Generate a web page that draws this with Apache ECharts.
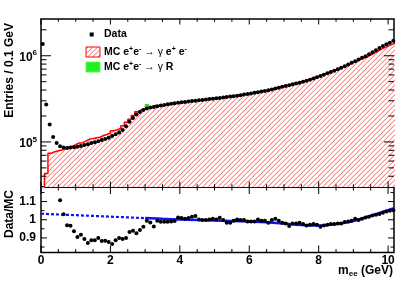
<!DOCTYPE html>
<html>
<head>
<meta charset="utf-8">
<script src="https://cdn.jsdelivr.net/npm/echarts@6/dist/echarts.min.js"></script>
<style>html,body{margin:0;padding:0;background:#fff}#c{width:415px;height:281px}</style>
</head>
<body>
<div id="c"></div>
<script>
// ---------------- data ----------------
const massBins = [0.05,0.15,0.25,0.35,0.45,0.55,0.65,0.75,0.85,0.95,1.05,1.15,1.25,1.35,1.45,1.55,1.65,1.75,1.85,1.95,
2.05,2.15,2.25,2.35,2.45,2.55,2.65,2.75,2.85,2.95,3.05,3.15,3.25,3.35,3.45,3.55,3.65,3.75,3.85,3.95,
4.05,4.15,4.25,4.35,4.45,4.55,4.65,4.75,4.85,4.95,5.05,5.15,5.25,5.35,5.45,5.55,5.65,5.75,5.85,5.95,
6.05,6.15,6.25,6.35,6.45,6.55,6.65,6.75,6.85,6.95,7.05,7.15,7.25,7.35,7.45,7.55,7.65,7.75,7.85,7.95,
8.05,8.15,8.25,8.35,8.45,8.55,8.65,8.75,8.85,8.95,9.05,9.15,9.25,9.35,9.45,9.55,9.65,9.75,9.85,9.95,
10.05,10.15];
const dataCounts = [1370000,272000,159000,114000,97000,89000,86000,85000,86000,87000,88000,90000,92000,94000,97000,99000,102000,105000,108000,112000,
117000,123000,129000,138000,152000,171000,190000,208000,223000,234000,245000,251000,255000,260000,264000,269000,273000,278000,282000,285000,
288000,291000,295000,298000,301000,304000,307000,310000,314000,317000,321000,324000,328000,332000,336000,340000,344000,348000,354000,360000,
366000,372000,378000,385000,391000,398000,407000,416000,426000,436000,446000,456000,466000,476000,485000,498000,512000,528000,545000,562000,
583000,604000,625000,647000,672000,698000,727000,758000,792000,828000,866000,905000,945000,985000,1040000,1100000,1160000,1230000,1300000,1360000,
1420000,1490000];
const mcGammaEE = [25000,43000,74000,77000,79000,80400,83500,87600,88900,92800,97200,98100,102900,107800,109400,111600,113300,118900,122000,127600,
134900,138700,143300,154400,168900,183300,202300,224600,236200,243500,246500,254800,264800,261600,262700,267700,271900,277200,281200,284400,
287400,290700,294900,298000,301300,304300,307600,310900,314900,318300,322300,325600,329600,334000,338400,342400,346800,350800,357200,363600,
369700,376100,382600,390100,396200,404100,413600,423200,434300,444900,456000,466700,477900,489200,499000,513400,528400,544900,563000,580600,
602300,622700,643000,664300,689200,714400,741800,770300,801600,834700,870400,905000,937500,971400,1021000,1073000,1125000,1185000,1243000,1295000,
1346000,1403000];
const gammaRMass = [3.05];
const gammaRStackTop = [272000];

const ratioMass = [0.55,0.65,0.75,0.85,0.95,1.05,1.15,1.25,1.35,1.45,1.55,1.65,1.75,1.85,1.95,
2.05,2.15,2.25,2.35,2.45,2.55,2.65,2.75,2.85,2.95,3.05,3.15,3.25,3.35,3.45,3.55,3.65,3.75,3.85,3.95,
4.05,4.15,4.25,4.35,4.45,4.55,4.65,4.75,4.85,4.95,5.05,5.15,5.25,5.35,5.45,5.55,5.65,5.75,5.85,5.95,
6.05,6.15,6.25,6.35,6.45,6.55,6.65,6.75,6.85,6.95,7.05,7.15,7.25,7.35,7.45,7.55,7.65,7.75,7.85,7.95,
8.05,8.15,8.25,8.35,8.45,8.55,8.65,8.75,8.85,8.95,9.05,9.15,9.25,9.35,9.45,9.55,9.65,9.75,9.85,9.95,
10.05,10.15];
const ratioValues = [1.107,1.030,0.970,0.967,0.937,0.905,0.917,0.894,0.872,0.887,0.887,0.900,0.883,0.885,0.878,
0.867,0.887,0.900,0.894,0.900,0.933,0.939,0.926,0.944,0.961,0.994,0.985,0.963,0.994,0.989,0.989,0.989,0.991,0.993,1.013,
1.009,1.006,1.009,1.017,1.020,1.002,0.998,0.998,1.002,1.006,1.002,1.011,0.998,0.983,0.983,0.994,1.002,0.998,0.998,0.991,
0.991,0.991,1.002,0.994,0.994,0.983,0.998,1.006,0.994,0.983,0.980,0.965,0.980,0.980,0.983,0.976,0.968,0.972,0.976,0.972,
0.961,0.968,0.972,0.976,0.976,0.980,0.980,0.987,0.991,0.994,1.006,0.998,1.006,1.013,1.017,1.024,1.028,1.031,1.039,1.046,
1.050,1.052];

const fitMass = [3.0,3.5,4.0,4.5,5.0,5.5,6.0,6.5,7.0,7.5,8.0,8.5,9.0,9.5,10.0,10.17];
const fitRatio = [1.009,1.005,1.002,0.999,0.996,0.993,0.990,0.986,0.979,0.971,0.968,0.976,0.993,1.022,1.053,1.063];
const extrapMass = [0.0,3.0];
const extrapRatio = [1.033,1.009];

const xMajorTicks = [0,2,4,6,8,10];
const xMinorTicks = [0.5,1,1.5,2.5,3,3.5,4.5,5,5.5,6.5,7,7.5,8.5,9,9.5];
const logMajorTicks = [1e5,1e6];
const logMinorTicks = [4e4,5e4,6e4,7e4,8e4,9e4,2e5,3e5,4e5,5e5,6e5,7e5,8e5,9e5,2e6];
const ratioMajorTicks = [0.9,1.0,1.1];
const ratioMinorTicks = [0.85,0.95,1.05,1.15];
const xTickLabels = [0,2,4,6,8,10];
const ratioTickLabels = {'0.9':'0.9','1':'1','1.1':'1.1'};

// ---------------- axis ranges ----------------
const XMIN = 0, XMAX = 10.17, BINW = 0.1;
const YMIN = 30000, YMAX = 2670000;
const RMIN = 0.82, RMAX = 1.18;

const FONT = '"Liberation Sans", Arial, Helvetica, sans-serif';

function hatchCanvas() {
  const n = 5;
  const c = document.createElement('canvas');
  c.width = n; c.height = n;
  const g = c.getContext('2d');
  g.fillStyle = '#ffffff';
  g.fillRect(0, 0, n, n);
  g.fillStyle = '#ff8a8a';
  for (let i = 0; i < n; i++) g.fillRect(n - 1 - i, i, 1, 1);
  g.fillStyle = '#ffd2d2';
  for (let i = 0; i < n; i++) g.fillRect((2 * n - 2 - i) % n, i, 1, 1);
  return c;
}
const hatch = hatchCanvas();

// histogram outline table (bin lower edges + final upper edge)
const mcStep = massBins.map((m, i) => [m - BINW / 2, mcGammaEE[i]]);
mcStep.push([massBins[massBins.length - 1] + BINW / 2, mcGammaEE[mcGammaEE.length - 1]]);
const dataPts = massBins.map((m, i) => [m, dataCounts[i]]);
const ratioPts = ratioMass.map((m, i) => [m, ratioValues[i]]);
const fitPts = fitMass.map((m, i) => [m, fitRatio[i]]);
const extrapPts = extrapMass.map((m, i) => [m, extrapRatio[i]]);
const gammaRPts = gammaRMass.map((m, i) => [m, gammaRStackTop[i], mcGammaEE[massBins.indexOf(m)]]);

function tickData(xMaj, xMin, yMaj, yMin, xRef, yRef) {
  const d = [];
  xMaj.forEach(v => d.push([v, yRef, 0, 1]));
  xMin.forEach(v => d.push([v, yRef, 0, 0]));
  yMaj.forEach(v => d.push([xRef, v, 1, 1]));
  yMin.forEach(v => d.push([xRef, v, 1, 0]));
  return d;
}
function tickRenderer(yLo, yHi, xLen, yLen) {
  return function (params, api) {
    const o = api.value(2), mj = api.value(3);
    const st = { stroke: '#000', lineWidth: 1 };
    if (o === 0) {
      const v = api.value(0);
      const b = api.coord([v, yLo]), t = api.coord([v, yHi]);
      const L = mj ? xLen[0] : xLen[1];
      return { type: 'group', children: [
        { type: 'line', shape: { x1: b[0], y1: b[1], x2: b[0], y2: b[1] - L }, style: st },
        { type: 'line', shape: { x1: t[0], y1: t[1], x2: t[0], y2: t[1] + L }, style: st }
      ]};
    } else {
      const v = api.value(1);
      const l = api.coord([XMIN, v]), r = api.coord([XMAX, v]);
      const L = mj ? yLen[0] : yLen[1];
      return { type: 'group', children: [
        { type: 'line', shape: { x1: l[0], y1: l[1], x2: l[0] + L, y2: l[1] }, style: st },
        { type: 'line', shape: { x1: r[0], y1: r[1], x2: r[0] - L, y2: r[1] }, style: st }
      ]};
    }
  };
}

const chart = echarts.init(document.getElementById('c'), null, { renderer: 'canvas' });
const hidden = { show: false };
const option = {
  backgroundColor: '#fff',
  animation: false,
  grid: [
    { left: 41, top: 19, right: 21, height: 168, show: true, borderColor: '#000', borderWidth: 1.5, backgroundColor: 'transparent' },
    { left: 41, top: 187, right: 21, height: 65.5, show: true, borderColor: '#000', borderWidth: 1.5, backgroundColor: 'transparent' }
  ],
  xAxis: [
    { gridIndex: 0, type: 'value', min: XMIN, max: XMAX, axisLine: hidden, axisTick: hidden, axisLabel: hidden, splitLine: hidden },
    { gridIndex: 1, type: 'value', min: XMIN, max: XMAX, interval: 2, axisLine: hidden, axisTick: hidden, splitLine: hidden,
      axisLabel: { show: true, margin: 2, color: '#000', fontFamily: FONT, fontWeight: 'bold', fontSize: 12,
        formatter: v => (xTickLabels.indexOf(v) >= 0 ? String(v) : '') } }
  ],
  yAxis: [
    { gridIndex: 0, type: 'log', logBase: 10, min: YMIN, max: YMAX, axisLine: hidden, axisTick: hidden, splitLine: hidden,
      axisLabel: { show: true, margin: 4, color: '#000',
        formatter: function (v) {
          const e = Math.round(Math.log10(v));
          if (logMajorTicks.indexOf(v) < 0 && Math.abs(Math.log10(v) - e) > 1e-6) return '';
          return '{b|10}{p|' + e + '}';
        },
        rich: {
          b: { fontFamily: FONT, fontWeight: 'bold', fontSize: 12, lineHeight: 13, color: '#000', padding: [3, 0, 0, 0] },
          p: { fontFamily: FONT, fontWeight: 'bold', fontSize: 8, lineHeight: 8, verticalAlign: 'top', color: '#000' }
        } } },
    { gridIndex: 1, type: 'value', min: RMIN, max: RMAX, splitNumber: 4, axisLine: hidden, axisTick: hidden, splitLine: hidden,
      axisLabel: { show: true, margin: 5, color: '#000', fontFamily: FONT, fontWeight: 'bold', fontSize: 12,
        formatter: function (v) { const k = String(Math.round(v * 100) / 100); return ratioTickLabels[k] || ''; } } }
  ],
  series: [
    { type: 'line', xAxisIndex: 0, yAxisIndex: 0, data: mcStep, step: 'end', symbol: 'none', z: 2,
      lineStyle: { color: '#ff0000', width: 1.5 },
      areaStyle: { origin: 'start', color: { image: hatch, repeat: 'repeat' }, opacity: 1 } },
    { type: 'custom', xAxisIndex: 0, yAxisIndex: 0, data: gammaRPts, z: 3, clip: true,
      renderItem: function (params, api) {
        const m = api.value(0), top = api.value(1), base = api.value(2);
        const p1 = api.coord([m - BINW / 2, base]), p2 = api.coord([m + BINW / 2, top]);
        return { type: 'rect', shape: { x: p1[0], y: p2[1], width: p2[0] - p1[0], height: p1[1] - p2[1] },
          style: { fill: '#22ee22', stroke: '#11cc11', lineWidth: 0.8 } };
      } },
    { type: 'scatter', xAxisIndex: 0, yAxisIndex: 0, data: dataPts, symbol: 'circle', symbolSize: 4, z: 4,
      itemStyle: { color: '#000', opacity: 1 } },
    { type: 'line', xAxisIndex: 1, yAxisIndex: 1, data: extrapPts, symbol: 'none', z: 2,
      lineStyle: { color: '#1010ff', width: 2.2, type: [3, 2] } },
    { type: 'line', xAxisIndex: 1, yAxisIndex: 1, data: fitPts, symbol: 'none', smooth: 0.4, z: 2,
      lineStyle: { color: '#1010ff', width: 2.5 } },
    { type: 'scatter', xAxisIndex: 1, yAxisIndex: 1, data: ratioPts, symbol: 'circle', symbolSize: 4, z: 4,
      itemStyle: { color: '#000', opacity: 1 } },
    { type: 'custom', xAxisIndex: 0, yAxisIndex: 0, clip: false, z: 10,
      data: tickData(xMajorTicks, xMinorTicks, logMajorTicks, logMinorTicks, XMIN, YMIN),
      renderItem: tickRenderer(YMIN, YMAX, [5.5, 2.8], [10, 5.5]) },
    { type: 'custom', xAxisIndex: 1, yAxisIndex: 1, clip: false, z: 10,
      data: tickData(xMajorTicks, xMinorTicks, ratioMajorTicks, ratioMinorTicks, XMIN, RMIN),
      renderItem: tickRenderer(RMIN, RMAX, [7, 3.5], [6, 3.5]) }
  ],
  graphic: [
    { type: 'text', x: 10, y: 23, rotation: Math.PI / 2,
      style: { text: 'Entries / 0.1 GeV', font: 'bold 12px ' + FONT, fill: '#000', align: 'right', verticalAlign: 'middle' } },
    { type: 'text', x: 10, y: 190, rotation: Math.PI / 2,
      style: { text: 'Data/MC', font: 'bold 12px ' + FONT, fill: '#000', align: 'right', verticalAlign: 'middle' } },
    { type: 'text', x: 393, y: 271,
      style: { text: '{m|m}{s|ee}{m| (GeV)}', align: 'right', verticalAlign: 'middle',
        rich: { m: { font: 'bold 12px ' + FONT, fill: '#000', lineHeight: 14 },
                s: { font: 'bold 8px ' + FONT, fill: '#000', lineHeight: 8, verticalAlign: 'bottom' } } } },
    // legend
    { type: 'rect', shape: { x: 89.7, y: 32.5, width: 4, height: 4 }, style: { fill: '#000' } },
    { type: 'text', x: 104, y: 34.5,
      style: { text: 'Data', font: 'bold 10.5px ' + FONT, fill: '#000', verticalAlign: 'middle' } },
    { type: 'rect', shape: { x: 86, y: 47, width: 14, height: 10 },
      style: { fill: { image: hatch, repeat: 'repeat' }, stroke: '#ff0000', lineWidth: 1 } },
    { type: 'text', x: 104, y: 52,
      style: { text: '{t|MC e}{s|+}{t|e}{s|-}{g| \u2192 \u03b3 }{t|e}{s|+}{t| e}{s|-}', verticalAlign: 'middle',
        rich: { t: { font: 'bold 10.5px ' + FONT, fill: '#000', lineHeight: 13 },
                g: { font: '10.5px ' + FONT, fill: '#000', lineHeight: 13 },
                s: { font: 'bold 7px ' + FONT, fill: '#000', lineHeight: 7, verticalAlign: 'top' } } } },
    { type: 'rect', shape: { x: 86, y: 62, width: 14, height: 10 },
      style: { fill: '#22ee22', stroke: '#55ff55', lineWidth: 1 } },
    { type: 'text', x: 104, y: 67,
      style: { text: '{t|MC e}{s|+}{t|e}{s|-}{g| \u2192 \u03b3 }{t|R}', verticalAlign: 'middle',
        rich: { t: { font: 'bold 10.5px ' + FONT, fill: '#000', lineHeight: 13 },
                g: { font: '10.5px ' + FONT, fill: '#000', lineHeight: 13 },
                s: { font: 'bold 7px ' + FONT, fill: '#000', lineHeight: 7, verticalAlign: 'top' } } } }
  ]
};
chart.setOption(option);
</script>
</body>
</html>
